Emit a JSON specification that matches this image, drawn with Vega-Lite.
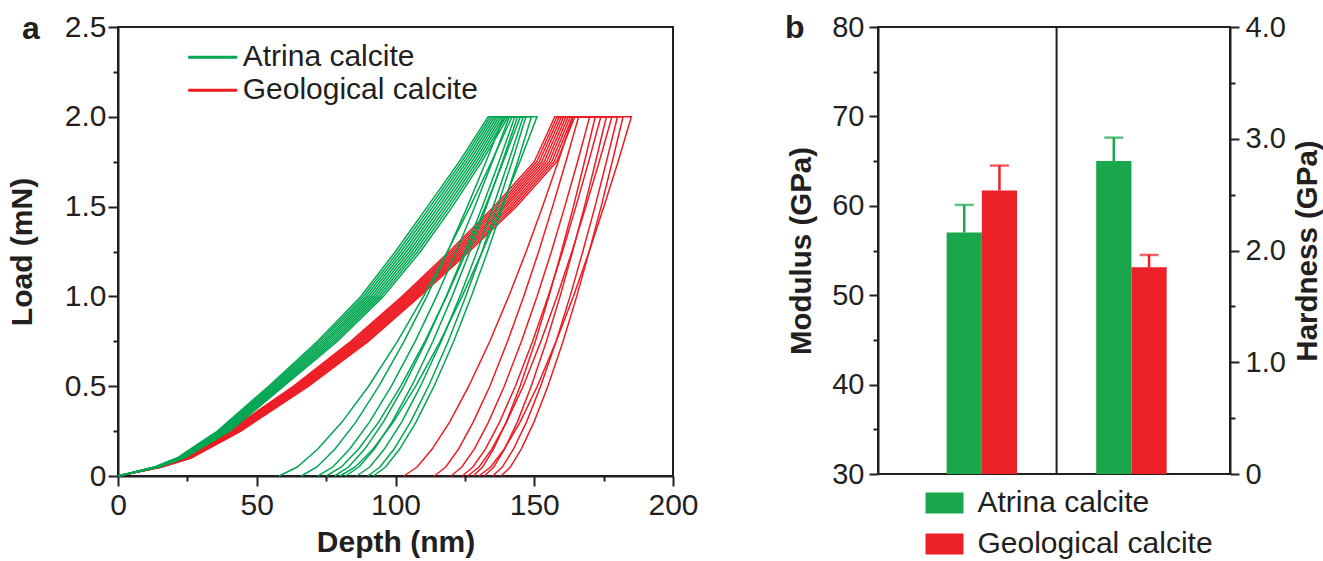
{
"$schema":"https://vega.github.io/schema/vega-lite/v6.json",
"background":"white",
"padding":{"left":6,"top":10,"right":0,"bottom":0},
"bounds":"flush",
"spacing":205,
"config":{
 "view":{"stroke":"#231f20","strokeWidth":2},
 "font":"Liberation Sans",
 "axis":{"domainColor":"#231f20","domainWidth":2,"tickColor":"#231f20","tickWidth":2,"labelColor":"#231f20","titleColor":"#231f20","grid":false,"labelFont":"Liberation Sans","titleFont":"Liberation Sans","labelFontSize":30,"titleFontSize":30,"titleFontWeight":"bold","labelFlush":false,"labelOverlap":false},
 "legend":{"labelFont":"Liberation Sans","labelFontSize":30,"labelColor":"#231f20","labelLimit":400}
},
"resolve":{"scale":{"color":"independent"},"legend":{"color":"independent"}},
"hconcat":[
{
 "width":555,"height":449,
 "layer":[
 {
  "data":{"values":[
{"m":"Geological calcite","c":"R1","o":0,"h":0,"p":0},{"m":"Geological calcite","c":"R1","o":1,"h":14.1,"p":0.05},{"m":"Geological calcite","c":"R1","o":2,"h":23.7,"p":0.1},{"m":"Geological calcite","c":"R1","o":3,"h":39.8,"p":0.25},{"m":"Geological calcite","c":"R1","o":4,"h":63.3,"p":0.5},{"m":"Geological calcite","c":"R1","o":5,"h":83.9,"p":0.75},{"m":"Geological calcite","c":"R1","o":6,"h":102.4,"p":1},{"m":"Geological calcite","c":"R1","o":7,"h":119.4,"p":1.25},{"m":"Geological calcite","c":"R1","o":8,"h":135.5,"p":1.5},{"m":"Geological calcite","c":"R1","o":9,"h":150,"p":1.75},{"m":"Geological calcite","c":"R1","o":10,"h":157.4,"p":2},{"m":"Geological calcite","c":"R1","o":11,"h":164,"p":2},{"m":"Geological calcite","c":"R1","o":12,"h":158.6,"p":1.75},{"m":"Geological calcite","c":"R1","o":13,"h":153,"p":1.5},{"m":"Geological calcite","c":"R1","o":14,"h":147.1,"p":1.25},{"m":"Geological calcite","c":"R1","o":15,"h":140.8,"p":1},{"m":"Geological calcite","c":"R1","o":16,"h":134,"p":0.75},{"m":"Geological calcite","c":"R1","o":17,"h":126.4,"p":0.5},{"m":"Geological calcite","c":"R1","o":18,"h":119.5,"p":0.3},{"m":"Geological calcite","c":"R1","o":19,"h":113.2,"p":0.15},{"m":"Geological calcite","c":"R1","o":20,"h":107.8,"p":0.05},{"m":"Geological calcite","c":"R1","o":21,"h":103,"p":0},
{"m":"Geological calcite","c":"R2","o":0,"h":0,"p":0},{"m":"Geological calcite","c":"R2","o":1,"h":14.3,"p":0.05},{"m":"Geological calcite","c":"R2","o":2,"h":24,"p":0.1},{"m":"Geological calcite","c":"R2","o":3,"h":40.3,"p":0.25},{"m":"Geological calcite","c":"R2","o":4,"h":63.9,"p":0.5},{"m":"Geological calcite","c":"R2","o":5,"h":84.6,"p":0.75},{"m":"Geological calcite","c":"R2","o":6,"h":103.1,"p":1},{"m":"Geological calcite","c":"R2","o":7,"h":120.2,"p":1.25},{"m":"Geological calcite","c":"R2","o":8,"h":136.4,"p":1.5},{"m":"Geological calcite","c":"R2","o":9,"h":150.9,"p":1.75},{"m":"Geological calcite","c":"R2","o":10,"h":158.2,"p":2},{"m":"Geological calcite","c":"R2","o":11,"h":166,"p":2},{"m":"Geological calcite","c":"R2","o":12,"h":161.4,"p":1.75},{"m":"Geological calcite","c":"R2","o":13,"h":156.6,"p":1.5},{"m":"Geological calcite","c":"R2","o":14,"h":151.6,"p":1.25},{"m":"Geological calcite","c":"R2","o":15,"h":146.2,"p":1},{"m":"Geological calcite","c":"R2","o":16,"h":140.4,"p":0.75},{"m":"Geological calcite","c":"R2","o":17,"h":134,"p":0.5},{"m":"Geological calcite","c":"R2","o":18,"h":128,"p":0.3},{"m":"Geological calcite","c":"R2","o":19,"h":122.7,"p":0.15},{"m":"Geological calcite","c":"R2","o":20,"h":118.1,"p":0.05},{"m":"Geological calcite","c":"R2","o":21,"h":114,"p":0},
{"m":"Geological calcite","c":"R3","o":0,"h":0,"p":0},{"m":"Geological calcite","c":"R3","o":1,"h":14.5,"p":0.05},{"m":"Geological calcite","c":"R3","o":2,"h":24.3,"p":0.1},{"m":"Geological calcite","c":"R3","o":3,"h":40.8,"p":0.25},{"m":"Geological calcite","c":"R3","o":4,"h":64.5,"p":0.5},{"m":"Geological calcite","c":"R3","o":5,"h":85.3,"p":0.75},{"m":"Geological calcite","c":"R3","o":6,"h":103.8,"p":1},{"m":"Geological calcite","c":"R3","o":7,"h":121,"p":1.25},{"m":"Geological calcite","c":"R3","o":8,"h":137.3,"p":1.5},{"m":"Geological calcite","c":"R3","o":9,"h":151.8,"p":1.75},{"m":"Geological calcite","c":"R3","o":10,"h":159,"p":2},{"m":"Geological calcite","c":"R3","o":11,"h":170,"p":2},{"m":"Geological calcite","c":"R3","o":12,"h":165.6,"p":1.75},{"m":"Geological calcite","c":"R3","o":13,"h":161,"p":1.5},{"m":"Geological calcite","c":"R3","o":14,"h":156.2,"p":1.25},{"m":"Geological calcite","c":"R3","o":15,"h":151,"p":1},{"m":"Geological calcite","c":"R3","o":16,"h":145.4,"p":0.75},{"m":"Geological calcite","c":"R3","o":17,"h":139.2,"p":0.5},{"m":"Geological calcite","c":"R3","o":18,"h":133.5,"p":0.3},{"m":"Geological calcite","c":"R3","o":19,"h":128.4,"p":0.15},{"m":"Geological calcite","c":"R3","o":20,"h":123.9,"p":0.05},{"m":"Geological calcite","c":"R3","o":21,"h":120,"p":0},
{"m":"Geological calcite","c":"R4","o":0,"h":0,"p":0},{"m":"Geological calcite","c":"R4","o":1,"h":14.7,"p":0.05},{"m":"Geological calcite","c":"R4","o":2,"h":24.6,"p":0.1},{"m":"Geological calcite","c":"R4","o":3,"h":41.3,"p":0.25},{"m":"Geological calcite","c":"R4","o":4,"h":65.1,"p":0.5},{"m":"Geological calcite","c":"R4","o":5,"h":86,"p":0.75},{"m":"Geological calcite","c":"R4","o":6,"h":104.5,"p":1},{"m":"Geological calcite","c":"R4","o":7,"h":121.8,"p":1.25},{"m":"Geological calcite","c":"R4","o":8,"h":138.2,"p":1.5},{"m":"Geological calcite","c":"R4","o":9,"h":152.7,"p":1.75},{"m":"Geological calcite","c":"R4","o":10,"h":159.8,"p":2},{"m":"Geological calcite","c":"R4","o":11,"h":172,"p":2},{"m":"Geological calcite","c":"R4","o":12,"h":168.1,"p":1.75},{"m":"Geological calcite","c":"R4","o":13,"h":164.1,"p":1.5},{"m":"Geological calcite","c":"R4","o":14,"h":159.8,"p":1.25},{"m":"Geological calcite","c":"R4","o":15,"h":155.3,"p":1},{"m":"Geological calcite","c":"R4","o":16,"h":150.4,"p":0.75},{"m":"Geological calcite","c":"R4","o":17,"h":144.9,"p":0.5},{"m":"Geological calcite","c":"R4","o":18,"h":139.9,"p":0.3},{"m":"Geological calcite","c":"R4","o":19,"h":135.3,"p":0.15},{"m":"Geological calcite","c":"R4","o":20,"h":131.4,"p":0.05},{"m":"Geological calcite","c":"R4","o":21,"h":128,"p":0},
{"m":"Geological calcite","c":"R5","o":0,"h":0,"p":0},{"m":"Geological calcite","c":"R5","o":1,"h":14.9,"p":0.05},{"m":"Geological calcite","c":"R5","o":2,"h":24.9,"p":0.1},{"m":"Geological calcite","c":"R5","o":3,"h":41.8,"p":0.25},{"m":"Geological calcite","c":"R5","o":4,"h":65.7,"p":0.5},{"m":"Geological calcite","c":"R5","o":5,"h":86.7,"p":0.75},{"m":"Geological calcite","c":"R5","o":6,"h":105.2,"p":1},{"m":"Geological calcite","c":"R5","o":7,"h":122.6,"p":1.25},{"m":"Geological calcite","c":"R5","o":8,"h":139.1,"p":1.5},{"m":"Geological calcite","c":"R5","o":9,"h":153.6,"p":1.75},{"m":"Geological calcite","c":"R5","o":10,"h":160.6,"p":2},{"m":"Geological calcite","c":"R5","o":11,"h":174,"p":2},{"m":"Geological calcite","c":"R5","o":12,"h":169.6,"p":1.75},{"m":"Geological calcite","c":"R5","o":13,"h":165,"p":1.5},{"m":"Geological calcite","c":"R5","o":14,"h":160.2,"p":1.25},{"m":"Geological calcite","c":"R5","o":15,"h":155,"p":1},{"m":"Geological calcite","c":"R5","o":16,"h":149.4,"p":0.75},{"m":"Geological calcite","c":"R5","o":17,"h":143.2,"p":0.5},{"m":"Geological calcite","c":"R5","o":18,"h":137.5,"p":0.3},{"m":"Geological calcite","c":"R5","o":19,"h":132.4,"p":0.15},{"m":"Geological calcite","c":"R5","o":20,"h":127.9,"p":0.05},{"m":"Geological calcite","c":"R5","o":21,"h":124,"p":0},
{"m":"Geological calcite","c":"R6","o":0,"h":0,"p":0},{"m":"Geological calcite","c":"R6","o":1,"h":15.1,"p":0.05},{"m":"Geological calcite","c":"R6","o":2,"h":25.2,"p":0.1},{"m":"Geological calcite","c":"R6","o":3,"h":42.3,"p":0.25},{"m":"Geological calcite","c":"R6","o":4,"h":66.3,"p":0.5},{"m":"Geological calcite","c":"R6","o":5,"h":87.4,"p":0.75},{"m":"Geological calcite","c":"R6","o":6,"h":105.9,"p":1},{"m":"Geological calcite","c":"R6","o":7,"h":123.4,"p":1.25},{"m":"Geological calcite","c":"R6","o":8,"h":139.9,"p":1.5},{"m":"Geological calcite","c":"R6","o":9,"h":154.5,"p":1.75},{"m":"Geological calcite","c":"R6","o":10,"h":161.4,"p":2},{"m":"Geological calcite","c":"R6","o":11,"h":176,"p":2},{"m":"Geological calcite","c":"R6","o":12,"h":172.1,"p":1.75},{"m":"Geological calcite","c":"R6","o":13,"h":168.1,"p":1.5},{"m":"Geological calcite","c":"R6","o":14,"h":163.8,"p":1.25},{"m":"Geological calcite","c":"R6","o":15,"h":159.3,"p":1},{"m":"Geological calcite","c":"R6","o":16,"h":154.4,"p":0.75},{"m":"Geological calcite","c":"R6","o":17,"h":148.9,"p":0.5},{"m":"Geological calcite","c":"R6","o":18,"h":143.9,"p":0.3},{"m":"Geological calcite","c":"R6","o":19,"h":139.3,"p":0.15},{"m":"Geological calcite","c":"R6","o":20,"h":135.4,"p":0.05},{"m":"Geological calcite","c":"R6","o":21,"h":132,"p":0},
{"m":"Geological calcite","c":"R7","o":0,"h":0,"p":0},{"m":"Geological calcite","c":"R7","o":1,"h":15.3,"p":0.05},{"m":"Geological calcite","c":"R7","o":2,"h":25.5,"p":0.1},{"m":"Geological calcite","c":"R7","o":3,"h":42.8,"p":0.25},{"m":"Geological calcite","c":"R7","o":4,"h":66.9,"p":0.5},{"m":"Geological calcite","c":"R7","o":5,"h":88.1,"p":0.75},{"m":"Geological calcite","c":"R7","o":6,"h":106.6,"p":1},{"m":"Geological calcite","c":"R7","o":7,"h":124.2,"p":1.25},{"m":"Geological calcite","c":"R7","o":8,"h":140.9,"p":1.5},{"m":"Geological calcite","c":"R7","o":9,"h":155.4,"p":1.75},{"m":"Geological calcite","c":"R7","o":10,"h":162.2,"p":2},{"m":"Geological calcite","c":"R7","o":11,"h":178,"p":2},{"m":"Geological calcite","c":"R7","o":12,"h":173.4,"p":1.75},{"m":"Geological calcite","c":"R7","o":13,"h":168.6,"p":1.5},{"m":"Geological calcite","c":"R7","o":14,"h":163.6,"p":1.25},{"m":"Geological calcite","c":"R7","o":15,"h":158.2,"p":1},{"m":"Geological calcite","c":"R7","o":16,"h":152.4,"p":0.75},{"m":"Geological calcite","c":"R7","o":17,"h":146,"p":0.5},{"m":"Geological calcite","c":"R7","o":18,"h":140,"p":0.3},{"m":"Geological calcite","c":"R7","o":19,"h":134.7,"p":0.15},{"m":"Geological calcite","c":"R7","o":20,"h":130.1,"p":0.05},{"m":"Geological calcite","c":"R7","o":21,"h":126,"p":0},
{"m":"Geological calcite","c":"R8","o":0,"h":0,"p":0},{"m":"Geological calcite","c":"R8","o":1,"h":15.5,"p":0.05},{"m":"Geological calcite","c":"R8","o":2,"h":25.8,"p":0.1},{"m":"Geological calcite","c":"R8","o":3,"h":43.3,"p":0.25},{"m":"Geological calcite","c":"R8","o":4,"h":67.5,"p":0.5},{"m":"Geological calcite","c":"R8","o":5,"h":88.8,"p":0.75},{"m":"Geological calcite","c":"R8","o":6,"h":107.3,"p":1},{"m":"Geological calcite","c":"R8","o":7,"h":125,"p":1.25},{"m":"Geological calcite","c":"R8","o":8,"h":141.8,"p":1.5},{"m":"Geological calcite","c":"R8","o":9,"h":156.3,"p":1.75},{"m":"Geological calcite","c":"R8","o":10,"h":163,"p":2},{"m":"Geological calcite","c":"R8","o":11,"h":180,"p":2},{"m":"Geological calcite","c":"R8","o":12,"h":176,"p":1.75},{"m":"Geological calcite","c":"R8","o":13,"h":171.9,"p":1.5},{"m":"Geological calcite","c":"R8","o":14,"h":167.5,"p":1.25},{"m":"Geological calcite","c":"R8","o":15,"h":162.9,"p":1},{"m":"Geological calcite","c":"R8","o":16,"h":157.9,"p":0.75},{"m":"Geological calcite","c":"R8","o":17,"h":152.3,"p":0.5},{"m":"Geological calcite","c":"R8","o":18,"h":147.2,"p":0.3},{"m":"Geological calcite","c":"R8","o":19,"h":142.5,"p":0.15},{"m":"Geological calcite","c":"R8","o":20,"h":138.5,"p":0.05},{"m":"Geological calcite","c":"R8","o":21,"h":135,"p":0},
{"m":"Geological calcite","c":"R9","o":0,"h":0,"p":0},{"m":"Geological calcite","c":"R9","o":1,"h":15.7,"p":0.05},{"m":"Geological calcite","c":"R9","o":2,"h":26.1,"p":0.1},{"m":"Geological calcite","c":"R9","o":3,"h":43.8,"p":0.25},{"m":"Geological calcite","c":"R9","o":4,"h":68.1,"p":0.5},{"m":"Geological calcite","c":"R9","o":5,"h":89.5,"p":0.75},{"m":"Geological calcite","c":"R9","o":6,"h":108,"p":1},{"m":"Geological calcite","c":"R9","o":7,"h":125.8,"p":1.25},{"m":"Geological calcite","c":"R9","o":8,"h":142.7,"p":1.5},{"m":"Geological calcite","c":"R9","o":9,"h":157.2,"p":1.75},{"m":"Geological calcite","c":"R9","o":10,"h":163.8,"p":2},{"m":"Geological calcite","c":"R9","o":11,"h":182,"p":2},{"m":"Geological calcite","c":"R9","o":12,"h":178.1,"p":1.75},{"m":"Geological calcite","c":"R9","o":13,"h":174.1,"p":1.5},{"m":"Geological calcite","c":"R9","o":14,"h":169.8,"p":1.25},{"m":"Geological calcite","c":"R9","o":15,"h":165.3,"p":1},{"m":"Geological calcite","c":"R9","o":16,"h":160.4,"p":0.75},{"m":"Geological calcite","c":"R9","o":17,"h":154.9,"p":0.5},{"m":"Geological calcite","c":"R9","o":18,"h":149.9,"p":0.3},{"m":"Geological calcite","c":"R9","o":19,"h":145.3,"p":0.15},{"m":"Geological calcite","c":"R9","o":20,"h":141.4,"p":0.05},{"m":"Geological calcite","c":"R9","o":21,"h":138,"p":0},
{"m":"Geological calcite","c":"R10","o":0,"h":0,"p":0},{"m":"Geological calcite","c":"R10","o":1,"h":15.9,"p":0.05},{"m":"Geological calcite","c":"R10","o":2,"h":26.4,"p":0.1},{"m":"Geological calcite","c":"R10","o":3,"h":44.3,"p":0.25},{"m":"Geological calcite","c":"R10","o":4,"h":68.7,"p":0.5},{"m":"Geological calcite","c":"R10","o":5,"h":90.2,"p":0.75},{"m":"Geological calcite","c":"R10","o":6,"h":108.7,"p":1},{"m":"Geological calcite","c":"R10","o":7,"h":126.6,"p":1.25},{"m":"Geological calcite","c":"R10","o":8,"h":143.6,"p":1.5},{"m":"Geological calcite","c":"R10","o":9,"h":158.1,"p":1.75},{"m":"Geological calcite","c":"R10","o":10,"h":164.6,"p":2},{"m":"Geological calcite","c":"R10","o":11,"h":185,"p":2},{"m":"Geological calcite","c":"R10","o":12,"h":180.2,"p":1.75},{"m":"Geological calcite","c":"R10","o":13,"h":175.1,"p":1.5},{"m":"Geological calcite","c":"R10","o":14,"h":169.8,"p":1.25},{"m":"Geological calcite","c":"R10","o":15,"h":164.1,"p":1},{"m":"Geological calcite","c":"R10","o":16,"h":157.9,"p":0.75},{"m":"Geological calcite","c":"R10","o":17,"h":151.1,"p":0.5},{"m":"Geological calcite","c":"R10","o":18,"h":144.9,"p":0.3},{"m":"Geological calcite","c":"R10","o":19,"h":139.2,"p":0.15},{"m":"Geological calcite","c":"R10","o":20,"h":134.3,"p":0.05},{"m":"Geological calcite","c":"R10","o":21,"h":130,"p":0},
{"m":"Atrina calcite","c":"G1","o":0,"h":0,"p":0},{"m":"Atrina calcite","c":"G1","o":1,"h":13.1,"p":0.05},{"m":"Atrina calcite","c":"G1","o":2,"h":21.2,"p":0.1},{"m":"Atrina calcite","c":"G1","o":3,"h":35.8,"p":0.25},{"m":"Atrina calcite","c":"G1","o":4,"h":54.3,"p":0.5},{"m":"Atrina calcite","c":"G1","o":5,"h":71.9,"p":0.75},{"m":"Atrina calcite","c":"G1","o":6,"h":87.5,"p":1},{"m":"Atrina calcite","c":"G1","o":7,"h":100,"p":1.25},{"m":"Atrina calcite","c":"G1","o":8,"h":111.5,"p":1.5},{"m":"Atrina calcite","c":"G1","o":9,"h":123,"p":1.75},{"m":"Atrina calcite","c":"G1","o":10,"h":133.4,"p":2},{"m":"Atrina calcite","c":"G1","o":11,"h":139,"p":2},{"m":"Atrina calcite","c":"G1","o":12,"h":132.6,"p":1.75},{"m":"Atrina calcite","c":"G1","o":13,"h":125.9,"p":1.5},{"m":"Atrina calcite","c":"G1","o":14,"h":118.8,"p":1.25},{"m":"Atrina calcite","c":"G1","o":15,"h":111.3,"p":1},{"m":"Atrina calcite","c":"G1","o":16,"h":103.1,"p":0.75},{"m":"Atrina calcite","c":"G1","o":17,"h":94,"p":0.5},{"m":"Atrina calcite","c":"G1","o":18,"h":85.7,"p":0.3},{"m":"Atrina calcite","c":"G1","o":19,"h":78.2,"p":0.15},{"m":"Atrina calcite","c":"G1","o":20,"h":71.7,"p":0.05},{"m":"Atrina calcite","c":"G1","o":21,"h":66,"p":0},
{"m":"Atrina calcite","c":"G2","o":0,"h":0,"p":0},{"m":"Atrina calcite","c":"G2","o":1,"h":13.3,"p":0.05},{"m":"Atrina calcite","c":"G2","o":2,"h":21.5,"p":0.1},{"m":"Atrina calcite","c":"G2","o":3,"h":36.3,"p":0.25},{"m":"Atrina calcite","c":"G2","o":4,"h":54.9,"p":0.5},{"m":"Atrina calcite","c":"G2","o":5,"h":72.7,"p":0.75},{"m":"Atrina calcite","c":"G2","o":6,"h":88.4,"p":1},{"m":"Atrina calcite","c":"G2","o":7,"h":101,"p":1.25},{"m":"Atrina calcite","c":"G2","o":8,"h":112.5,"p":1.5},{"m":"Atrina calcite","c":"G2","o":9,"h":123.9,"p":1.75},{"m":"Atrina calcite","c":"G2","o":10,"h":134.2,"p":2},{"m":"Atrina calcite","c":"G2","o":11,"h":141,"p":2},{"m":"Atrina calcite","c":"G2","o":12,"h":134.9,"p":1.75},{"m":"Atrina calcite","c":"G2","o":13,"h":128.6,"p":1.5},{"m":"Atrina calcite","c":"G2","o":14,"h":121.9,"p":1.25},{"m":"Atrina calcite","c":"G2","o":15,"h":114.8,"p":1},{"m":"Atrina calcite","c":"G2","o":16,"h":107.1,"p":0.75},{"m":"Atrina calcite","c":"G2","o":17,"h":98.5,"p":0.5},{"m":"Atrina calcite","c":"G2","o":18,"h":90.6,"p":0.3},{"m":"Atrina calcite","c":"G2","o":19,"h":83.5,"p":0.15},{"m":"Atrina calcite","c":"G2","o":20,"h":77.4,"p":0.05},{"m":"Atrina calcite","c":"G2","o":21,"h":72,"p":0},
{"m":"Atrina calcite","c":"G3","o":0,"h":0,"p":0},{"m":"Atrina calcite","c":"G3","o":1,"h":13.5,"p":0.05},{"m":"Atrina calcite","c":"G3","o":2,"h":21.8,"p":0.1},{"m":"Atrina calcite","c":"G3","o":3,"h":36.8,"p":0.25},{"m":"Atrina calcite","c":"G3","o":4,"h":55.5,"p":0.5},{"m":"Atrina calcite","c":"G3","o":5,"h":73.5,"p":0.75},{"m":"Atrina calcite","c":"G3","o":6,"h":89.3,"p":1},{"m":"Atrina calcite","c":"G3","o":7,"h":102,"p":1.25},{"m":"Atrina calcite","c":"G3","o":8,"h":113.5,"p":1.5},{"m":"Atrina calcite","c":"G3","o":9,"h":124.8,"p":1.75},{"m":"Atrina calcite","c":"G3","o":10,"h":135,"p":2},{"m":"Atrina calcite","c":"G3","o":11,"h":142,"p":2},{"m":"Atrina calcite","c":"G3","o":12,"h":134.6,"p":1.75},{"m":"Atrina calcite","c":"G3","o":13,"h":126.9,"p":1.5},{"m":"Atrina calcite","c":"G3","o":14,"h":118.7,"p":1.25},{"m":"Atrina calcite","c":"G3","o":15,"h":110.1,"p":1},{"m":"Atrina calcite","c":"G3","o":16,"h":100.7,"p":0.75},{"m":"Atrina calcite","c":"G3","o":17,"h":90.3,"p":0.5},{"m":"Atrina calcite","c":"G3","o":18,"h":80.7,"p":0.3},{"m":"Atrina calcite","c":"G3","o":19,"h":72,"p":0.15},{"m":"Atrina calcite","c":"G3","o":20,"h":64.6,"p":0.05},{"m":"Atrina calcite","c":"G3","o":21,"h":58,"p":0},
{"m":"Atrina calcite","c":"G4","o":0,"h":0,"p":0},{"m":"Atrina calcite","c":"G4","o":1,"h":13.7,"p":0.05},{"m":"Atrina calcite","c":"G4","o":2,"h":22.1,"p":0.1},{"m":"Atrina calcite","c":"G4","o":3,"h":37.3,"p":0.25},{"m":"Atrina calcite","c":"G4","o":4,"h":56.1,"p":0.5},{"m":"Atrina calcite","c":"G4","o":5,"h":74.3,"p":0.75},{"m":"Atrina calcite","c":"G4","o":6,"h":90.2,"p":1},{"m":"Atrina calcite","c":"G4","o":7,"h":103,"p":1.25},{"m":"Atrina calcite","c":"G4","o":8,"h":114.5,"p":1.5},{"m":"Atrina calcite","c":"G4","o":9,"h":125.7,"p":1.75},{"m":"Atrina calcite","c":"G4","o":10,"h":135.8,"p":2},{"m":"Atrina calcite","c":"G4","o":11,"h":143,"p":2},{"m":"Atrina calcite","c":"G4","o":12,"h":137.3,"p":1.75},{"m":"Atrina calcite","c":"G4","o":13,"h":131.3,"p":1.5},{"m":"Atrina calcite","c":"G4","o":14,"h":125,"p":1.25},{"m":"Atrina calcite","c":"G4","o":15,"h":118.3,"p":1},{"m":"Atrina calcite","c":"G4","o":16,"h":111,"p":0.75},{"m":"Atrina calcite","c":"G4","o":17,"h":103,"p":0.5},{"m":"Atrina calcite","c":"G4","o":18,"h":95.6,"p":0.3},{"m":"Atrina calcite","c":"G4","o":19,"h":88.9,"p":0.15},{"m":"Atrina calcite","c":"G4","o":20,"h":83.1,"p":0.05},{"m":"Atrina calcite","c":"G4","o":21,"h":78,"p":0},
{"m":"Atrina calcite","c":"G5","o":0,"h":0,"p":0},{"m":"Atrina calcite","c":"G5","o":1,"h":13.9,"p":0.05},{"m":"Atrina calcite","c":"G5","o":2,"h":22.4,"p":0.1},{"m":"Atrina calcite","c":"G5","o":3,"h":37.8,"p":0.25},{"m":"Atrina calcite","c":"G5","o":4,"h":56.7,"p":0.5},{"m":"Atrina calcite","c":"G5","o":5,"h":75.1,"p":0.75},{"m":"Atrina calcite","c":"G5","o":6,"h":91.1,"p":1},{"m":"Atrina calcite","c":"G5","o":7,"h":104,"p":1.25},{"m":"Atrina calcite","c":"G5","o":8,"h":115.5,"p":1.5},{"m":"Atrina calcite","c":"G5","o":9,"h":126.6,"p":1.75},{"m":"Atrina calcite","c":"G5","o":10,"h":136.6,"p":2},{"m":"Atrina calcite","c":"G5","o":11,"h":144,"p":2},{"m":"Atrina calcite","c":"G5","o":12,"h":138.5,"p":1.75},{"m":"Atrina calcite","c":"G5","o":13,"h":132.8,"p":1.5},{"m":"Atrina calcite","c":"G5","o":14,"h":126.8,"p":1.25},{"m":"Atrina calcite","c":"G5","o":15,"h":120.4,"p":1},{"m":"Atrina calcite","c":"G5","o":16,"h":113.5,"p":0.75},{"m":"Atrina calcite","c":"G5","o":17,"h":105.8,"p":0.5},{"m":"Atrina calcite","c":"G5","o":18,"h":98.7,"p":0.3},{"m":"Atrina calcite","c":"G5","o":19,"h":92.4,"p":0.15},{"m":"Atrina calcite","c":"G5","o":20,"h":86.8,"p":0.05},{"m":"Atrina calcite","c":"G5","o":21,"h":82,"p":0},
{"m":"Atrina calcite","c":"G6","o":0,"h":0,"p":0},{"m":"Atrina calcite","c":"G6","o":1,"h":14.1,"p":0.05},{"m":"Atrina calcite","c":"G6","o":2,"h":22.7,"p":0.1},{"m":"Atrina calcite","c":"G6","o":3,"h":38.3,"p":0.25},{"m":"Atrina calcite","c":"G6","o":4,"h":57.3,"p":0.5},{"m":"Atrina calcite","c":"G6","o":5,"h":75.9,"p":0.75},{"m":"Atrina calcite","c":"G6","o":6,"h":92,"p":1},{"m":"Atrina calcite","c":"G6","o":7,"h":105,"p":1.25},{"m":"Atrina calcite","c":"G6","o":8,"h":116.5,"p":1.5},{"m":"Atrina calcite","c":"G6","o":9,"h":127.5,"p":1.75},{"m":"Atrina calcite","c":"G6","o":10,"h":137.4,"p":2},{"m":"Atrina calcite","c":"G6","o":11,"h":145,"p":2},{"m":"Atrina calcite","c":"G6","o":12,"h":138.8,"p":1.75},{"m":"Atrina calcite","c":"G6","o":13,"h":132.4,"p":1.5},{"m":"Atrina calcite","c":"G6","o":14,"h":125.6,"p":1.25},{"m":"Atrina calcite","c":"G6","o":15,"h":118.4,"p":1},{"m":"Atrina calcite","c":"G6","o":16,"h":110.6,"p":0.75},{"m":"Atrina calcite","c":"G6","o":17,"h":101.9,"p":0.5},{"m":"Atrina calcite","c":"G6","o":18,"h":93.9,"p":0.3},{"m":"Atrina calcite","c":"G6","o":19,"h":86.7,"p":0.15},{"m":"Atrina calcite","c":"G6","o":20,"h":80.5,"p":0.05},{"m":"Atrina calcite","c":"G6","o":21,"h":75,"p":0},
{"m":"Atrina calcite","c":"G7","o":0,"h":0,"p":0},{"m":"Atrina calcite","c":"G7","o":1,"h":14.3,"p":0.05},{"m":"Atrina calcite","c":"G7","o":2,"h":23,"p":0.1},{"m":"Atrina calcite","c":"G7","o":3,"h":38.8,"p":0.25},{"m":"Atrina calcite","c":"G7","o":4,"h":57.9,"p":0.5},{"m":"Atrina calcite","c":"G7","o":5,"h":76.7,"p":0.75},{"m":"Atrina calcite","c":"G7","o":6,"h":92.9,"p":1},{"m":"Atrina calcite","c":"G7","o":7,"h":106,"p":1.25},{"m":"Atrina calcite","c":"G7","o":8,"h":117.5,"p":1.5},{"m":"Atrina calcite","c":"G7","o":9,"h":128.4,"p":1.75},{"m":"Atrina calcite","c":"G7","o":10,"h":138.2,"p":2},{"m":"Atrina calcite","c":"G7","o":11,"h":146,"p":2},{"m":"Atrina calcite","c":"G7","o":12,"h":140.7,"p":1.75},{"m":"Atrina calcite","c":"G7","o":13,"h":135.2,"p":1.5},{"m":"Atrina calcite","c":"G7","o":14,"h":129.4,"p":1.25},{"m":"Atrina calcite","c":"G7","o":15,"h":123.2,"p":1},{"m":"Atrina calcite","c":"G7","o":16,"h":116.5,"p":0.75},{"m":"Atrina calcite","c":"G7","o":17,"h":109,"p":0.5},{"m":"Atrina calcite","c":"G7","o":18,"h":102.2,"p":0.3},{"m":"Atrina calcite","c":"G7","o":19,"h":96,"p":0.15},{"m":"Atrina calcite","c":"G7","o":20,"h":90.7,"p":0.05},{"m":"Atrina calcite","c":"G7","o":21,"h":86,"p":0},
{"m":"Atrina calcite","c":"G8","o":0,"h":0,"p":0},{"m":"Atrina calcite","c":"G8","o":1,"h":14.5,"p":0.05},{"m":"Atrina calcite","c":"G8","o":2,"h":23.3,"p":0.1},{"m":"Atrina calcite","c":"G8","o":3,"h":39.3,"p":0.25},{"m":"Atrina calcite","c":"G8","o":4,"h":58.5,"p":0.5},{"m":"Atrina calcite","c":"G8","o":5,"h":77.5,"p":0.75},{"m":"Atrina calcite","c":"G8","o":6,"h":93.8,"p":1},{"m":"Atrina calcite","c":"G8","o":7,"h":107,"p":1.25},{"m":"Atrina calcite","c":"G8","o":8,"h":118.5,"p":1.5},{"m":"Atrina calcite","c":"G8","o":9,"h":129.3,"p":1.75},{"m":"Atrina calcite","c":"G8","o":10,"h":139,"p":2},{"m":"Atrina calcite","c":"G8","o":11,"h":147,"p":2},{"m":"Atrina calcite","c":"G8","o":12,"h":142,"p":1.75},{"m":"Atrina calcite","c":"G8","o":13,"h":136.7,"p":1.5},{"m":"Atrina calcite","c":"G8","o":14,"h":131.2,"p":1.25},{"m":"Atrina calcite","c":"G8","o":15,"h":125.3,"p":1},{"m":"Atrina calcite","c":"G8","o":16,"h":119,"p":0.75},{"m":"Atrina calcite","c":"G8","o":17,"h":111.9,"p":0.5},{"m":"Atrina calcite","c":"G8","o":18,"h":105.4,"p":0.3},{"m":"Atrina calcite","c":"G8","o":19,"h":99.5,"p":0.15},{"m":"Atrina calcite","c":"G8","o":20,"h":94.4,"p":0.05},{"m":"Atrina calcite","c":"G8","o":21,"h":90,"p":0},
{"m":"Atrina calcite","c":"G9","o":0,"h":0,"p":0},{"m":"Atrina calcite","c":"G9","o":1,"h":14.7,"p":0.05},{"m":"Atrina calcite","c":"G9","o":2,"h":23.6,"p":0.1},{"m":"Atrina calcite","c":"G9","o":3,"h":39.8,"p":0.25},{"m":"Atrina calcite","c":"G9","o":4,"h":59.1,"p":0.5},{"m":"Atrina calcite","c":"G9","o":5,"h":78.3,"p":0.75},{"m":"Atrina calcite","c":"G9","o":6,"h":94.7,"p":1},{"m":"Atrina calcite","c":"G9","o":7,"h":108,"p":1.25},{"m":"Atrina calcite","c":"G9","o":8,"h":119.5,"p":1.5},{"m":"Atrina calcite","c":"G9","o":9,"h":130.2,"p":1.75},{"m":"Atrina calcite","c":"G9","o":10,"h":139.8,"p":2},{"m":"Atrina calcite","c":"G9","o":11,"h":149,"p":2},{"m":"Atrina calcite","c":"G9","o":12,"h":144,"p":1.75},{"m":"Atrina calcite","c":"G9","o":13,"h":138.7,"p":1.5},{"m":"Atrina calcite","c":"G9","o":14,"h":133.2,"p":1.25},{"m":"Atrina calcite","c":"G9","o":15,"h":127.3,"p":1},{"m":"Atrina calcite","c":"G9","o":16,"h":121,"p":0.75},{"m":"Atrina calcite","c":"G9","o":17,"h":113.9,"p":0.5},{"m":"Atrina calcite","c":"G9","o":18,"h":107.4,"p":0.3},{"m":"Atrina calcite","c":"G9","o":19,"h":101.5,"p":0.15},{"m":"Atrina calcite","c":"G9","o":20,"h":96.4,"p":0.05},{"m":"Atrina calcite","c":"G9","o":21,"h":92,"p":0},
{"m":"Atrina calcite","c":"G10","o":0,"h":0,"p":0},{"m":"Atrina calcite","c":"G10","o":1,"h":14.9,"p":0.05},{"m":"Atrina calcite","c":"G10","o":2,"h":23.9,"p":0.1},{"m":"Atrina calcite","c":"G10","o":3,"h":40.3,"p":0.25},{"m":"Atrina calcite","c":"G10","o":4,"h":59.7,"p":0.5},{"m":"Atrina calcite","c":"G10","o":5,"h":79.1,"p":0.75},{"m":"Atrina calcite","c":"G10","o":6,"h":95.6,"p":1},{"m":"Atrina calcite","c":"G10","o":7,"h":109,"p":1.25},{"m":"Atrina calcite","c":"G10","o":8,"h":120.5,"p":1.5},{"m":"Atrina calcite","c":"G10","o":9,"h":131.1,"p":1.75},{"m":"Atrina calcite","c":"G10","o":10,"h":140.6,"p":2},{"m":"Atrina calcite","c":"G10","o":11,"h":151,"p":2},{"m":"Atrina calcite","c":"G10","o":12,"h":144.8,"p":1.75},{"m":"Atrina calcite","c":"G10","o":13,"h":138.2,"p":1.5},{"m":"Atrina calcite","c":"G10","o":14,"h":131.3,"p":1.25},{"m":"Atrina calcite","c":"G10","o":15,"h":124,"p":1},{"m":"Atrina calcite","c":"G10","o":16,"h":116.1,"p":0.75},{"m":"Atrina calcite","c":"G10","o":17,"h":107.3,"p":0.5},{"m":"Atrina calcite","c":"G10","o":18,"h":99.2,"p":0.3},{"m":"Atrina calcite","c":"G10","o":19,"h":91.9,"p":0.15},{"m":"Atrina calcite","c":"G10","o":20,"h":85.5,"p":0.05},{"m":"Atrina calcite","c":"G10","o":21,"h":80,"p":0}
  ]},
  "mark":{"type":"line","strokeWidth":1.5},
  "encoding":{
   "x":{"field":"h","type":"quantitative","scale":{"domain":[0,200],"nice":false,"zero":false},
        "axis":{"title":"Depth (nm)","values":[0,25,50,75,100,125,150,175,200],"labelExpr":"datum.value % 50 === 0 ? datum.label : ''","tickSize":{"condition":{"test":"datum.value % 50 === 0","value":10},"value":5},"labelPadding":4,"titlePadding":7}},
   "y":{"field":"p","type":"quantitative","scale":{"domain":[0,2.5],"nice":false,"zero":false},
        "axis":{"title":"Load (mN)","values":[0,0.25,0.5,0.75,1,1.25,1.5,1.75,2,2.25,2.5],"labelExpr":"datum.value === 0 ? '0' : ((datum.value * 2) % 1 === 0 ? format(datum.value, '.1f') : '')","tickSize":{"condition":{"test":"(datum.value * 2) % 1 === 0","value":10},"value":5},"labelPadding":2,"titlePadding":27}},
   "color":{"field":"m","type":"nominal","scale":{"domain":["Atrina calcite","Geological calcite"],"range":["#00a651","#ed1c24"]},
        "legend":{"title":null,"orient":"none","legendX":76.7,"legendY":12.2,"symbolType":"M-1.5,0H1.5","symbolSize":1067,"symbolStrokeWidth":3,"labelFontSize":30,"labelOffset":12,"rowPadding":0,"padding":0,"labelLimit":400}},
   "detail":{"field":"c"},
   "order":{"field":"o"}
  }
 },
 {
  "data":{"values":[{"t":"a","h":-34.6,"p":2.435}]},
  "mark":{"type":"text","align":"left","baseline":"alphabetic","fontSize":32,"fontWeight":"bold","font":"Liberation Sans","color":"#231f20"},
  "encoding":{"x":{"field":"h","type":"quantitative"},"y":{"field":"p","type":"quantitative"},"text":{"field":"t"}}
 }
 ]
},
{
 "width":352,"height":447,
 "data":{"values":[
  {"prop":"Modulus","mat":"Atrina calcite","v":57.0,"e":60.1},
  {"prop":"Modulus","mat":"Geological calcite","v":61.7,"e":64.5},
  {"prop":"Hardness","mat":"Atrina calcite","v":2.80,"e":3.01},
  {"prop":"Hardness","mat":"Geological calcite","v":1.85,"e":1.96}
 ]},
 "layer":[
  {"layer":[
   {"transform":[{"filter":"datum.prop === 'Modulus'"}],
    "mark":{"type":"bar"},
    "encoding":{
     "x":{"field":"prop","type":"nominal","scale":{"domain":["Modulus","Hardness"],"paddingInner":0.529,"paddingOuter":0.441,"align":0.52},"axis":null},
     "xOffset":{"field":"mat","type":"nominal","scale":{"domain":["Atrina calcite","Geological calcite"],"paddingInner":0,"paddingOuter":0}},
     "y":{"field":"v","type":"quantitative","scale":{"domain":[30,80],"nice":false,"zero":false},
          "axis":{"title":"Modulus (GPa)","orient":"left","values":[30,35,40,45,50,55,60,65,70,75,80],"labelExpr":"datum.value % 10 === 0 ? datum.label : ''","tickSize":{"condition":{"test":"datum.value % 10 === 0","value":9},"value":5},"labelPadding":5,"titlePadding":15,"labelFontSize":29,"titleFontSize":29.5}},
     "y2":{"datum":30},
     "color":{"field":"mat","type":"nominal","scale":{"domain":["Atrina calcite","Geological calcite"],"range":["#1aa64a","#ec2027"]},
        "legend":{"title":null,"orient":"none","legendX":47.5,"legendY":457,"symbolType":"M-1,-0.553H1V0.553H-1Z","symbolSize":1444,"symbolStrokeWidth":0,"labelFontSize":30,"labelOffset":14,"rowPadding":7,"padding":0,"labelLimit":400}}
    }},
   {"transform":[{"filter":"datum.prop === 'Modulus'"}],
    "mark":{"type":"rule","strokeWidth":2.5},
    "encoding":{
     "x":{"field":"prop","type":"nominal"},
     "xOffset":{"field":"mat","type":"nominal"},
     "y":{"field":"v","type":"quantitative"},
     "y2":{"field":"e"},
     "color":{"field":"mat","type":"nominal","legend":null}
    }},
   {"transform":[{"filter":"datum.prop === 'Modulus'"}],
    "mark":{"type":"tick","orient":"horizontal","size":19,"thickness":2.5},
    "encoding":{
     "x":{"field":"prop","type":"nominal"},
     "xOffset":{"field":"mat","type":"nominal"},
     "y":{"field":"e","type":"quantitative"},
     "color":{"field":"mat","type":"nominal","legend":null}
    }},
   {"data":{"values":[{"k":1}]},
    "mark":{"type":"rule","color":"#231f20","strokeWidth":2},
    "encoding":{"x":{"datum":"Modulus","type":"nominal","bandPosition":1.561}}},
   {"data":{"values":[{"t":"b"}]},
    "mark":{"type":"text","align":"left","baseline":"alphabetic","fontSize":32,"fontWeight":"bold","font":"Liberation Sans","color":"#231f20"},
    "encoding":{"x":{"datum":"Modulus","type":"nominal","bandPosition":-2.295},"y":{"datum":78.77,"type":"quantitative"},"text":{"field":"t"}}}
  ]},
  {"layer":[
   {"transform":[{"filter":"datum.prop === 'Hardness'"}],
    "mark":{"type":"bar"},
    "encoding":{
     "x":{"field":"prop","type":"nominal"},
     "xOffset":{"field":"mat","type":"nominal"},
     "y":{"field":"v","type":"quantitative","scale":{"domain":[0,4],"nice":false,"zero":false},
          "axis":{"title":"Hardness (GPa)","orient":"right","values":[0,0.5,1,1.5,2,2.5,3,3.5,4],"labelExpr":"datum.value === 0 ? '0' : (datum.value % 1 === 0 ? format(datum.value, '.1f') : '')","tickSize":{"condition":{"test":"datum.value % 1 === 0","value":9},"value":5},"labelPadding":6,"titlePadding":8,"titleAngle":270,"titleBaseline":"top","labelFontSize":29,"titleFontSize":29.5}},
     "y2":{"datum":0},
     "color":{"field":"mat","type":"nominal","legend":null}
    }},
   {"transform":[{"filter":"datum.prop === 'Hardness'"}],
    "mark":{"type":"rule","strokeWidth":2.5},
    "encoding":{
     "x":{"field":"prop","type":"nominal"},
     "xOffset":{"field":"mat","type":"nominal"},
     "y":{"field":"v","type":"quantitative"},
     "y2":{"field":"e"},
     "color":{"field":"mat","type":"nominal","legend":null}
    }},
   {"transform":[{"filter":"datum.prop === 'Hardness'"}],
    "mark":{"type":"tick","orient":"horizontal","size":19,"thickness":2.5},
    "encoding":{
     "x":{"field":"prop","type":"nominal"},
     "xOffset":{"field":"mat","type":"nominal"},
     "y":{"field":"e","type":"quantitative"},
     "color":{"field":"mat","type":"nominal","legend":null}
    }}
  ]}
 ],
 "resolve":{"scale":{"y":"independent"}}
}
]
}
